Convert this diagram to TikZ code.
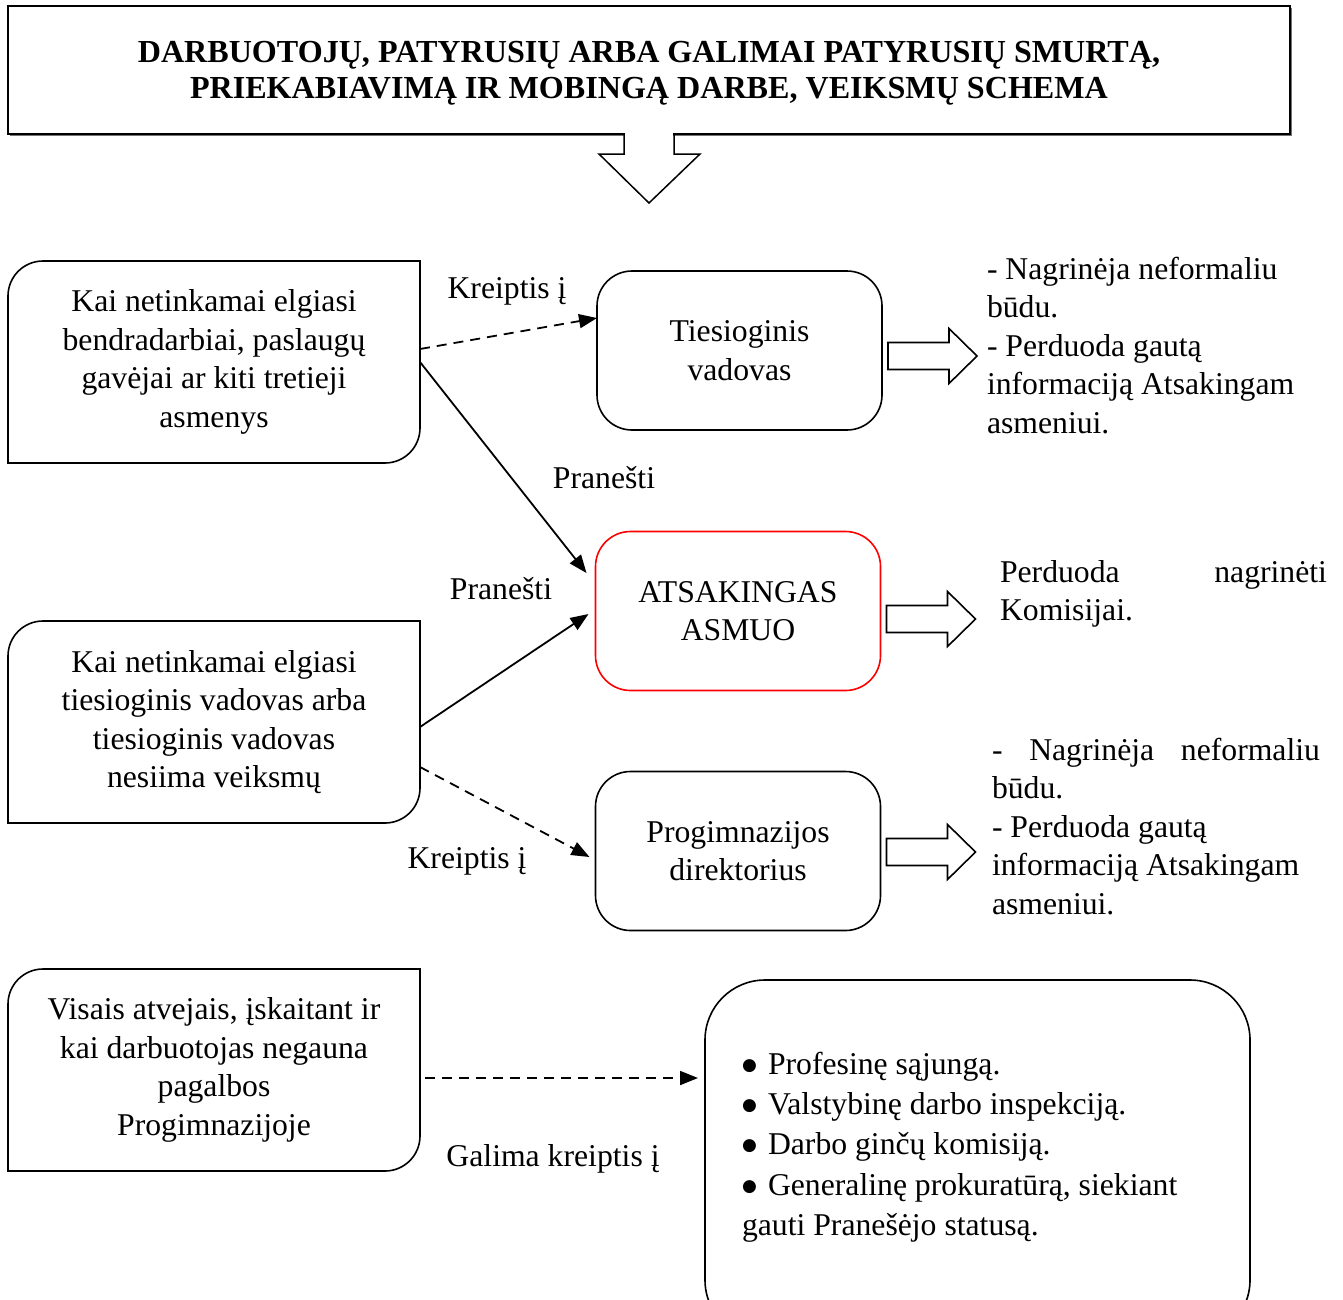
\documentclass[tikz,border=0pt]{standalone}
\usepackage{fontspec}
\setmainfont{Liberation Serif}
\newfontfamily\symfont{DejaVu Sans}
\usetikzlibrary{arrows.meta,calc}
\newcommand\cutbox[1]{\draw[line width=1.6pt] (#1.south west) -- ([yshift=-35pt]#1.north west) arc[start angle=180,end angle=90,radius=35pt] -- (#1.north east) -- ([yshift=35pt]#1.south east) arc[start angle=0,end angle=-90,radius=35pt] -- cycle;}
\newcommand\fatarrow[2]{\begin{scope}[shift={(#1)},yshift=#2]\draw[barrow] (6,13.5) -- (67,13.5) -- (67,27.5) -- (95,0) -- (67,-27.5) -- (67,-13.5) -- (6,-13.5) -- cycle;\end{scope}}
\newcommand\bul{\makebox[26pt][l]{\raisebox{4pt}{\symfont\fontsize{17}{17}\selectfont ●}}}
\begin{document}
\begin{tikzpicture}[x=1pt,y=1pt,
  every node/.style={inner sep=0pt, outer sep=0pt},
  txt/.style={font=\fontsize{31.7}{38.5}\selectfont, align=center},
  lbox/.style={txt, minimum width=412pt, minimum height=202pt},
  mbox/.style={txt, draw, line width=1.6pt, rounded corners=35pt, minimum width=285pt, minimum height=159pt},
  conn/.style={line width=1.8pt, -{Triangle[length=18pt,width=14pt]}},
  dconn/.style={conn, dash pattern=on 10pt off 7pt},
  lab/.style={font=\fontsize{31.7}{38.5}\selectfont},
  side/.style={font=\fontsize{31.7}{38.5}\selectfont, align=left, anchor=north west},
  barrow/.style={line width=1.6pt, fill=white}]
\useasboundingbox (0,0) rectangle (1343,-1299);
\clip (0,0) rectangle (1343,-1299);

% title
\node[draw, line width=1.5pt, minimum width=1282pt, minimum height=128pt] (title) at (649,-70) {};
\node[font=\bfseries\fontsize{32.1}{36}\selectfont, align=center] (tt) at (649,-73)
  {DARBUOTOJŲ, PATYRUSIŲ ARBA GALIMAI PATYRUSIŲ SMURTĄ,\\PRIEKABIAVIMĄ IR MOBINGĄ DARBE, VEIKSMŲ SCHEMA};
\draw[line width=1.5pt, black!55] ([shift={(2pt,-1.6pt)}]title.south west) -- ([shift={(1.6pt,-1.6pt)}]title.south east) -- ([shift={(1.6pt,-2pt)}]title.north east);
\fill[white] ([shift={(-24pt,4pt)}]title.south) rectangle ([shift={(24pt,-4pt)}]title.south);
\draw[line width=1.5pt] ([xshift=-25pt]title.south) -- ++(0,-20) -- ++(-25,0) -- ([yshift=-69pt]title.south) -- ([shift={(51pt,-20pt)}]title.south) -- ++(-26,0) -- ++(0,20);

% left boxes
\node[lbox] (b1) at (214,-362) {Kai netinkamai elgiasi\\bendradarbiai, paslaugų\\gavėjai ar kiti tretieji\\asmenys};
\node[lbox] (b2) at (214,-722) {Kai netinkamai elgiasi\\tiesioginis vadovas arba\\tiesioginis vadovas\\nesiima veiksmų};
\node[lbox] (b3) at (214,-1070) {Visais atvejais, įskaitant ir\\kai darbuotojas negauna\\pagalbos\\Progimnazijoje};
\cutbox{b1}
\cutbox{b2}
\cutbox{b3}

% middle boxes
\node[mbox] (tv) at (739.5,-350.5) {Tiesioginis\\vadovas};
\node[mbox, draw=red] (as) at (738,-611) {ATSAKINGAS\\ASMUO};
\node[mbox] (pd) at (738,-851) {Progimnazijos\\direktorius};

% bottom right box
\node[draw, line width=1.6pt, rounded corners=60pt, minimum width=545pt, minimum height=360pt] (kb) at (977.5,-1160) {};
\node[side, font=\fontsize{31.7}{40.3}\selectfont] (kt) at (742,-1052)
  {\bul Profesinę sąjungą.\\\bul Valstybinę darbo inspekciją.\\\bul Darbo ginčų komisiją.\\\bul Generalinę prokuratūrą, siekiant\\gauti Pranešėjo statusą.};

% block arrows
\fatarrow{tv.east}{-5.5pt}
\fatarrow{as.east}{-8pt}
\fatarrow{pd.east}{-1pt}

% side texts
\node[side] (s1) at (987,-257) {- Nagrinėja neformaliu\\būdu.\\- Perduoda gautą\\informaciją Atsakingam\\asmeniui.};
\node[side] (s2) at (1000,-560) {\makebox[327pt][s]{Perduoda nagrinėti}\\Komisijai.};
\node[side] (s3) at (992,-738) {\makebox[328pt][s]{- Nagrinėja neformaliu}\\būdu.\\- Perduoda gautą\\informaciją Atsakingam\\asmeniui.};

% connectors
\draw[dconn] ([yshift=13pt]b1.east) -- ([yshift=32.5pt]tv.west);
\draw[conn] (b1.east) -- ([shift={(-9pt,38pt)}]as.west);
\draw[conn] ([yshift=-5pt]b2.east) -- ([shift={(-7pt,-3pt)}]as.west);
\draw[dconn] ([yshift=-45pt]b2.east) -- ([shift={(-6pt,-6pt)}]pd.west);
\draw[dconn] ([shift={(5pt,-8pt)}]b3.east) -- ([shift={(-7pt,82pt)}]kb.west);

% labels
\node[lab] (l1) at (507,-291) {Kreiptis į};
\node[lab] (l2) at (604,-478) {Pranešti};
\node[lab] (l3) at (501,-589) {Pranešti};
\node[lab] (l4) at (467,-861) {Kreiptis į};
\node[lab] (l5) at (553,-1159) {Galima kreiptis į};
\end{tikzpicture}
\end{document}
